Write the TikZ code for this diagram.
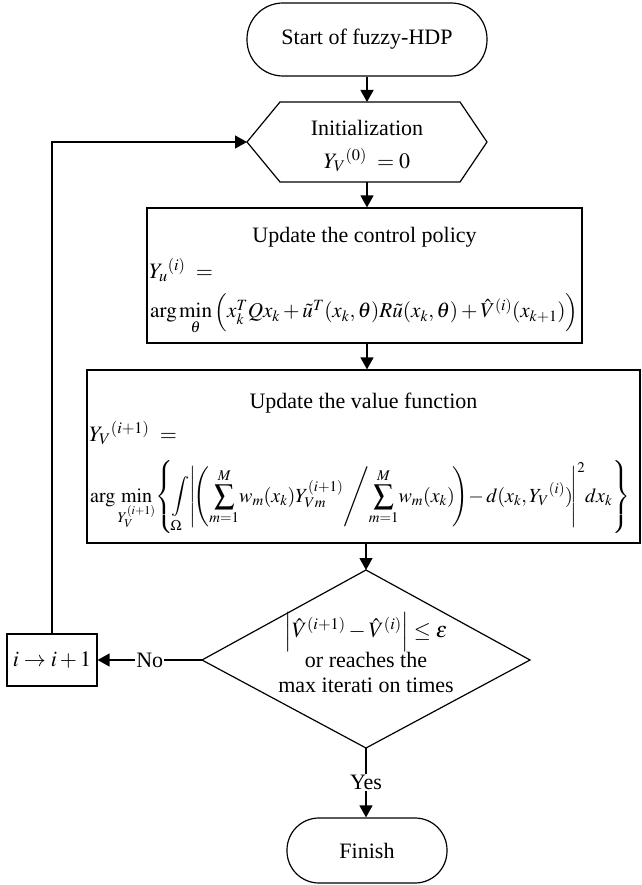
\documentclass[tikz,border=0pt]{standalone}
\usepackage{graphicx}
\usepackage{mathptmx}
\usepackage[no-math]{fontspec}
\setmainfont{Liberation Serif}
\usetikzlibrary{arrows.meta,calc}
\tikzset{
  base/.style={line width=1.2pt},
  term/.style={draw, line width=1.2pt, inner sep=0pt},
  boxnode/.style={draw, line width=1.2pt, inner sep=0pt},
  txt/.style={inner sep=0pt, align=center},
  conn/.style={line width=1.3pt, -{Triangle[length=12pt,width=13pt]}},
  lbl/.style={fill=white, inner sep=1pt},
}
\begin{document}
\begin{tikzpicture}[x=1pt,y=-1pt,font=\fontsize{22}{26}\selectfont]
\useasboundingbox (0,0) rectangle (641,885);
% start
\node[term, rounded corners=36pt, minimum width=240pt, minimum height=73pt] (start) at (367,39.5) {Start of fuzzy-HDP};
% hexagon
\coordinate (hexL) at (247,142);
\coordinate (hexR) at (487,142);
\coordinate (hexTL) at (280,102);
\coordinate (hexTR) at (460,102);
\coordinate (hexBL) at (280,182);
\coordinate (hexBR) at (460,182);
\coordinate (hexT) at (367,102);
\coordinate (hexB) at (367,182);
\draw[base] (hexL) -- (hexTL) -- (hexTR) -- (hexR) -- (hexBR) -- (hexBL) -- cycle;
\node[txt] (initA) at (367,128) {Initialization};
\node[txt] (initB) at (367,160) {$Y_{V}{}^{(0)}\ =0$};
% control box
\node[boxnode, minimum width=435pt, minimum height=135pt] (ctrl) at (364.5,275.5) {};
\node[txt] (ctrlT) at (364.5,237) {Update the control policy};
\node[txt, anchor=west] (ctrlA) at (149,270) {$Y_{u}{}^{(i)}\ =$};
\node[txt, anchor=west] (ctrlB) at (150,314) {\resizebox{428pt}{!}{$\arg\min\limits_{\theta}\left(x_k^T Q x_k + \tilde{u}^T(x_k,\theta) R\tilde{u}(x_k,\theta) + \hat{V}^{(i)}(x_{k+1})\right)$}};
% value box
\node[boxnode, minimum width=553pt, minimum height=173pt] (val) at (363.5,456.5) {};
\node[txt] (valT) at (363.5,403) {Update the value function};
\node[txt, anchor=west] (valA) at (89,433) {$Y_{V}{}^{(i+1)}\ =$};
\node[txt, anchor=west] (valB) at (90,497) {\resizebox{540pt}{!}{$\medmuskip=2mu\thickmuskip=3mu\displaystyle\arg\min\limits_{Y_V^{(i+1)}}\!\left\{\!\int\limits_{\Omega}\!\left|\!\left(\sum_{m=1}^{M}\! w_m(x_k) Y_{Vm}^{(i+1)} \middle/ \sum_{m=1}^{M}\! w_m(x_k)\!\right)\! - d(x_k, Y_V{}^{(i)})\!\right|^2\! dx_k\right\}$}};
% decision
\coordinate (dT) at (366,570);
\coordinate (dB) at (366,748);
\coordinate (dL) at (202,660);
\coordinate (dR) at (530,660);
\draw[base] (dT) -- (dR) -- (dB) -- (dL) -- cycle;
\node[txt] (decA) at (366,632) {$\left|\hat V^{(i+1)} - \hat V^{(i)}\right| \le \varepsilon$};
\node[txt] (decB) at (366,660) {or reaches the};
\node[txt] (decC) at (366,685) {max iterati on times};
% increment
\node[boxnode, minimum width=90pt, minimum height=52pt] (inc) at (52,660) {$i\rightarrow i+1$};
% finish
\node[term, rounded corners=32pt, minimum width=160pt, minimum height=65pt] (fin) at (367,850.5) {Finish};
% connectors
\draw[conn] (start.south) -- (hexT);
\draw[conn] (hexB) -- (hexB |- ctrl.north);
\draw[conn] (hexB |- ctrl.south) -- (hexB |- val.north);
\draw[conn] (dT |- val.south) -- (dT);
\draw[conn] (dB) -- node[lbl]{Yes} (dB |- fin.north);
\draw[conn] (dL) -- node[lbl]{No} (inc.east);
\draw[conn] (inc.north) -- (inc.north |- hexL) -- (hexL);
\end{tikzpicture}
\end{document}
